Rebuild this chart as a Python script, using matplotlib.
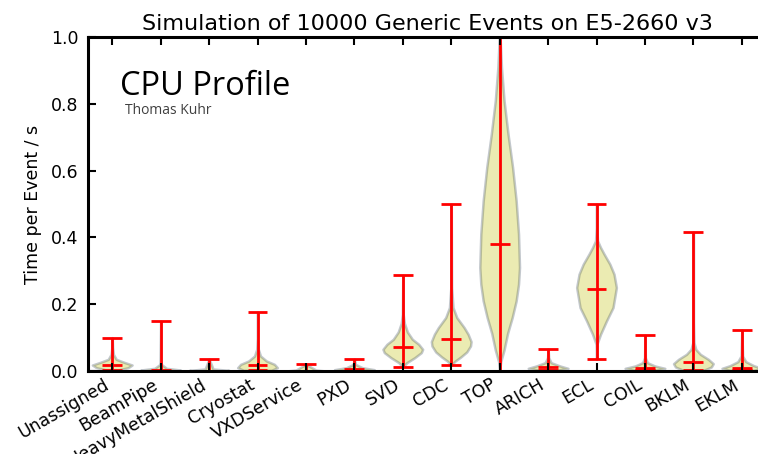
import matplotlib
matplotlib.use("Agg")
import matplotlib.pyplot as plt
import numpy as np

categories = ["Unassigned", "BeamPipe", "HeavyMetalShield", "Cryostat", "VXDService",
              "PXD", "SVD", "CDC", "TOP", "ARICH", "ECL", "COIL", "BKLM", "EKLM"]

# extrema and mean per detector (s / event)
t_min = [0.003, 0.0, 0.0, 0.002, 0.0, 0.0, 0.012, 0.018, 0.0, 0.003, 0.035, 0.003, 0.003, 0.002]
t_max = [0.10, 0.15, 0.036, 0.177, 0.02, 0.036, 0.287, 0.50, 1.2, 0.066, 0.50, 0.108, 0.417, 0.123]
t_mean = [0.018, 0.003, 0.001, 0.018, 0.001, 0.006, 0.072, 0.096, 0.38, 0.012, 0.245, 0.010, 0.028, 0.010]

# violin outlines: time values and relative widths
shape_y = [
    [0.003, 0.01, 0.018, 0.026, 0.035, 0.05, 0.07, 0.10],
    [0.0, 0.003, 0.008, 0.02, 0.15],
    [0.0, 0.002, 0.006, 0.036],
    [0.002, 0.01, 0.02, 0.03, 0.045, 0.065, 0.10, 0.177],
    [0.0, 0.003, 0.02],
    [0.0, 0.004, 0.01, 0.02, 0.036],
    [0.012, 0.025, 0.04, 0.055, 0.065, 0.08, 0.095, 0.117, 0.143, 0.17, 0.287],
    [0.018, 0.03, 0.042, 0.057, 0.075, 0.088, 0.11, 0.13, 0.16, 0.19, 0.25, 0.50],
    [0.0, 0.027, 0.063, 0.113, 0.16, 0.21, 0.26, 0.31, 0.41, 0.51, 0.61, 0.71, 0.81, 0.91, 1.0, 1.2],
    [0.003, 0.008, 0.015, 0.025, 0.04, 0.066],
    [0.035, 0.08, 0.11, 0.15, 0.19, 0.25, 0.29, 0.32, 0.35, 0.37, 0.39, 0.43, 0.50],
    [0.003, 0.008, 0.015, 0.025, 0.04, 0.108],
    [0.003, 0.012, 0.022, 0.035, 0.05, 0.065, 0.085, 0.15, 0.417],
    [0.002, 0.008, 0.016, 0.028, 0.045, 0.123],
]
shape_w = [
    [0.3, 0.8, 1.0, 0.6, 0.2, 0.06, 0.02, 0.0],
    [0.6, 1.0, 0.3, 0.03, 0.0],
    [0.8, 1.0, 0.2, 0.0],
    [0.7, 1.0, 0.85, 0.45, 0.15, 0.04, 0.01, 0.0],
    [1.0, 0.5, 0.0],
    [0.6, 1.0, 0.4, 0.05, 0.0],
    [0.0, 0.2, 0.6, 0.93, 1.0, 0.8, 0.48, 0.23, 0.08, 0.02, 0.0],
    [0.0, 0.2, 0.48, 0.78, 0.97, 1.0, 0.85, 0.65, 0.28, 0.09, 0.02, 0.0],
    [0.0, 0.05, 0.22, 0.4, 0.63, 0.83, 0.95, 1.0, 0.95, 0.83, 0.65, 0.42, 0.22, 0.09, 0.02, 0.0],
    [0.5, 1.0, 0.6, 0.15, 0.03, 0.0],
    [0.0, 0.02, 0.2, 0.5, 0.83, 1.0, 0.88, 0.67, 0.38, 0.2, 0.05, 0.01, 0.0],
    [0.6, 1.0, 0.5, 0.12, 0.02, 0.0],
    [0.55, 0.9, 1.0, 0.75, 0.35, 0.12, 0.03, 0.005, 0.0],
    [0.6, 1.0, 0.6, 0.2, 0.04, 0.0],
]

vpstats = []
for i in range(len(categories)):
    vpstats.append({"coords": np.array(shape_y[i]), "vals": np.array(shape_w[i]),
                    "mean": t_mean[i], "median": t_mean[i],
                    "min": t_min[i], "max": t_max[i]})

fig = plt.figure(figsize=(7.58, 4.54), dpi=100)
ax = fig.add_axes([0.1161, 0.1828, 0.8945, 0.7357])

pos = np.arange(1, len(categories) + 1)
parts = ax.violin(vpstats, positions=pos, widths=0.82, showmeans=True, showextrema=True)
for body in parts["bodies"]:
    body.set_facecolor("y")
    body.set_edgecolor("#3a4a5a")
    body.set_alpha(0.3)
    body.set_linewidth(1.8)
for key in ["cmeans", "cmins", "cmaxes", "cbars"]:
    parts[key].set_color("r")
    parts[key].set_linewidth(2)

ax.set_xlim(0.5, len(categories) + 0.5)
ax.set_ylim(0, 1.0)
ax.set_yticks([0.0, 0.2, 0.4, 0.6, 0.8, 1.0])
ax.set_xticks(pos)
ax.set_xticklabels(categories, rotation=30, ha="right", fontsize=12.5)
ax.tick_params(axis="both", direction="in", length=6, width=1.5, labelsize=12.5, top=True)
ax.tick_params(axis="y", pad=7)
ax.set_axisbelow(False)
for s in ax.spines.values():
    s.set_linewidth(2.2)

ax.set_ylabel("Time per Event / s", fontsize=12.5, labelpad=6)
ax.set_title("Simulation of 10000 Generic Events on E5-2660 v3", fontsize=16, pad=5)

fig.text(120 / 758, 1 - 95 / 454, "CPU Profile", fontsize=23.5, family="Open Sans", va="baseline")
fig.text(125 / 758, 1 - 114 / 454, "Thomas Kuhr", fontsize=10, family="Open Sans", color="#404040")

fig.savefig("out.png", dpi=100)
